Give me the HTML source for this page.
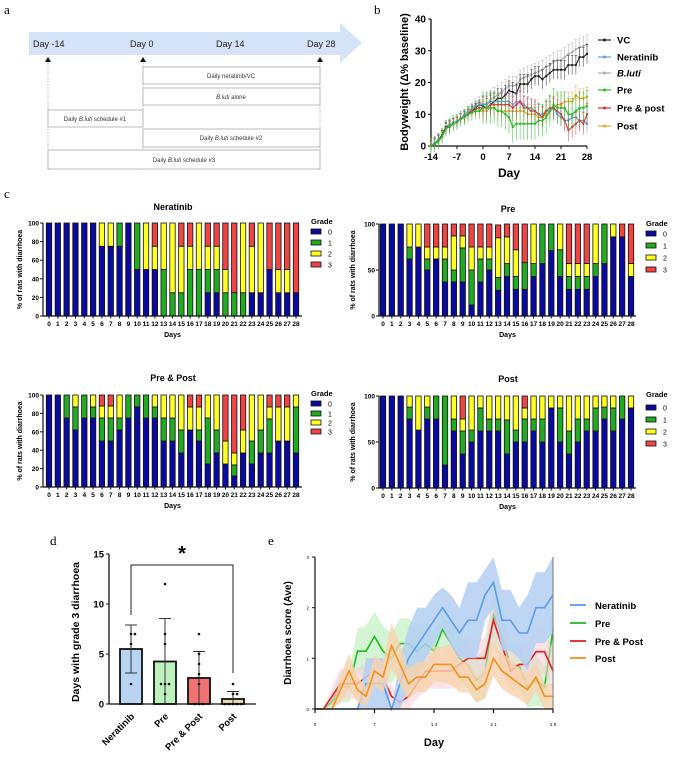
<!DOCTYPE html>
<html><head><meta charset="utf-8"><style>
html,body{margin:0;padding:0;background:#fff;}
svg{display:block;font-family:"Liberation Sans",Arial,sans-serif;}
.t{font-weight:bold;}
.serif{font-family:"Liberation Serif",serif;}
</style></head><body>
<svg id="fig" width="677" height="775" viewBox="0 0 677 775" xmlns="http://www.w3.org/2000/svg">
<g>
<text class="serif" x="4" y="14" font-size="13">a</text>
<polygon points="29,32 340,32 340,23 362,43 340,63 340,55 29,55" fill="#d4e3f7"/>
<g font-size="9" fill="#222">
<text x="33" y="47">Day -14</text>
<text x="130" y="47">Day 0</text>
<text x="216" y="47">Day 14</text>
<text x="307" y="47">Day 28</text>
</g>
<g fill="#111">
<polygon points="45,62 48,57 51,62"/>
<polygon points="140,62 143,57 146,62"/>
<polygon points="317,62 320,57 323,62"/>
</g>
<g stroke="#aaa" stroke-dasharray="1.5,1.5" stroke-width="0.8">
<line x1="48" y1="63" x2="48" y2="170"/><line x1="143" y1="63" x2="143" y2="170"/><line x1="320" y1="63" x2="320" y2="170"/>
</g>
<g fill="#fff" stroke="#aaa" stroke-width="0.8">
<rect x="143" y="67" width="177" height="17"/>
<rect x="143" y="88" width="177" height="17"/>
<rect x="48" y="110" width="95" height="17"/>
<rect x="143" y="129" width="177" height="18"/>
<rect x="48" y="150" width="272" height="19"/>
</g>
<g font-size="6" fill="#333" text-anchor="middle">
<text x="231" y="78">Daily neratinib/VC</text>
<text x="231" y="99"><tspan font-style="italic">B.luti</tspan> alone</text>
<text x="95" y="121">Daily <tspan font-style="italic">B.luti</tspan> schedule #1</text>
<text x="231" y="140">Daily <tspan font-style="italic">B.luti</tspan> schedule #2</text>
<text x="184" y="162">Daily <tspan font-style="italic">B.luti</tspan> schedule #3</text>
</g>
</g>
<text class="serif" x="374" y="14" font-size="13">b</text>
<text class="serif" x="4" y="198" font-size="13">c</text>
<text class="serif" x="50" y="545" font-size="13">d</text>
<text class="serif" x="268" y="545" font-size="13">e</text>
</svg>
<script>
// ---------- Panel b data ----------
const bDays = [];
for (let d = -14; d <= 28; d++) bDays.push(d);
const bTicksX = [-14, -7, 0, 7, 14, 21, 28];
const bTicksY = [0, 10, 20, 30, 40];
const bNames = ["VC", "Neratinib", "B.luti", "Pre", "Pre & post", "Post"];
const bVC = [0,1,2,3.5,6,6.5,7,7.5,8.5,9.5,10,11,12,13,12.5,12,13,14,15,15,16,17.5,17,16.5,19.5,19.5,19.5,21,22,22,21,22,23,24,24,24,24,25.5,25.5,25.5,28,28,29];
const bNer = [0,1,2,3,5.5,6.5,7,7.5,8.5,9.5,10.5,11.5,12.5,13,13,13,14,14,14,14,14,14,13,14,14,13,12,12,11,10,10,11,11,12,10,9,8,8,9,9,8,8,7];
const bBluti = [0,1,2,3.5,6,7,7.5,8,9,10,11,12,13,14,13,13.5,14.5,15.5,16,17,18,19,19,19,21,21.5,22,22.5,23,23.5,24,25,25.5,26.5,27,27,28,29,29.5,30.5,31,31.5,32];
const bPre = [0,0.5,1.5,3,5.5,6,7,7.5,8.5,9,10,10.5,11,11,12,12,12,12,11,11,10,9,6,7,7,7,7,7,7,8,8,9,11,13,12,12,12,10,10,11,12,12,12.5];
const bPP = [0,0.5,1.5,3,5.5,6,7,7.5,8.5,9,10,11,11.5,12,12,12,13,13,13,13,13,13,12,13,14,12,12,11,11,10,9,11,12,12,11,10,8,5,6,7,8,7,10];
const bPost = [0,0.5,1.5,3,5.5,6,7,7.5,8.5,9,10,10.5,11,11,11,11,12,12,11,11,11,11,11,11,11,11,10,10,10,9,9,10,11,12,13,13,14,14,14,16,15,15,15.5];
const bErr = [3, 3, 3, 5, 3.5, 3];

// ---------- Panel c data (percent per grade, days 0..28) ----------
const cDays = [];
for (let d = 0; d <= 28; d++) cDays.push(d);
const nerG0 = [100,100,100,100,100,100,75,75,75,100,50,50,50,0,0,0,0,0,25,25,0,0,0,25,25,50,25,25,25];
const nerG1 = [0,0,0,0,0,0,0,0,25,0,50,0,0,50,25,25,50,50,25,25,25,25,25,0,0,0,0,0,0];
const nerG2 = [0,0,0,0,0,0,25,25,0,0,0,50,25,50,75,50,25,50,25,25,25,0,75,50,75,0,25,25,0];
const nerG3 = [0,0,0,0,0,0,0,0,0,0,0,0,25,0,0,25,25,0,25,25,50,75,0,25,0,50,50,50,75];
const preG0 = [100,100,100,62,75,50,62,37,37,37,12,37,50,28,43,29,29,43,57,71,43,29,29,29,43,57,86,86,43];
const preG1 = [0,0,0,13,0,12,0,25,13,37,38,25,12,14,14,14,29,14,43,29,29,14,14,14,14,43,0,0,0];
const preG2 = [0,0,0,25,25,13,13,13,37,13,25,13,13,43,29,29,0,43,0,0,28,14,14,14,43,0,14,0,14];
const preG3 = [0,0,0,0,0,25,25,25,13,13,25,25,25,14,14,28,42,0,0,0,0,43,43,43,0,0,0,14,43];
const ppG0 = [100,100,75,62,75,75,50,50,62,75,87,75,75,50,50,37,62,50,25,37,25,12,37,25,37,37,50,50,37];
const ppG1 = [0,0,25,25,25,12,25,25,13,25,13,25,12,25,25,25,0,12,50,25,0,12,0,25,25,37,0,0,50];
const ppG2 = [0,0,0,13,0,13,13,13,25,0,0,0,13,25,25,38,25,25,25,38,25,13,25,50,38,13,37,37,13];
const ppG3 = [0,0,0,0,0,0,12,12,0,0,0,0,0,0,0,0,13,13,0,0,50,63,38,0,0,13,13,13,0];
const poG0 = [100,100,100,75,63,75,75,25,62,37,50,62,62,62,37,50,50,62,50,87,50,37,50,62,62,75,62,75,87];
const poG1 = [0,0,0,13,0,13,25,75,13,25,13,25,13,13,37,13,25,13,25,0,37,25,25,13,25,13,25,25,0];
const poG2 = [0,0,0,12,37,12,0,0,25,13,37,13,25,25,26,37,12,25,25,13,13,38,25,25,13,12,13,0,13];
const poG3 = [0,0,0,0,0,0,0,0,0,25,0,0,0,0,0,0,13,0,0,0,0,0,0,0,0,0,0,0,0];

// ---------- Panel d data ----------
const dGroups = ["Neratinib", "Pre", "Pre & Post", "Post"];
const dMeans = [5.5, 4.25, 2.6, 0.5];
const dSD = [2.4, 4.3, 2.65, 0.75];
const dPoints = [[7,7,6,2],[12,7,6,2,2,2,1],[7,5,4,3,2,0,0,0],[2,1,1,0,0,0,0,0]];
const dTicks = [0, 5, 10, 15];

// ---------- Panel e data ----------
const eNames = ["Neratinib", "Pre", "Pre & Post", "Post"];
const eNer = [0,0,0,0,0,0,0.5,0.5,0.5,0,0.5,1,1.25,1.5,1.75,2,1.75,1.5,1.75,1.75,2.25,2.5,1.75,1.75,1.5,1.5,2,2,2.25];
const eNerErr = [0,0,0,0,0,0,0.5,0.5,0.5,0,0.5,0.6,0.75,0.5,0.5,0.4,0.5,0.5,0.75,0.75,0.5,0.5,0.6,0.6,0.5,0.75,0.7,0.7,0.75];
const ePre = [0,0,0.14,0.43,0.43,1.14,1.14,1.43,1.14,1,1.29,1.29,1.14,1.29,1.14,1.57,1.29,1,0.86,0.57,0.71,1.86,1.43,0.86,0.86,0.43,0.57,0.43,1.57];
const ePreErr = [0,0,0.14,0.3,0.3,0.45,0.5,0.5,0.5,0.5,0.5,0.5,0.5,0.45,0.4,0.35,0.45,0.45,0.45,0.45,0.5,0.5,0.6,0.5,0.45,0.4,0.5,0.4,0.6];
const ePP = [0,0,0.25,0.5,0.5,0.5,0.63,0.75,0.63,0.25,0.13,0.25,0.5,0.75,0.75,0.75,0.75,0.88,1,1,1,1.75,1.25,0.75,0.88,0.88,1.13,1.13,0.75];
const ePPErr = [0,0,0.2,0.3,0.3,0.3,0.3,0.3,0.3,0.2,0.13,0.25,0.3,0.35,0.35,0.35,0.35,0.4,0.4,0.4,0.4,0.5,0.45,0.4,0.4,0.4,0.45,0.45,0.4];
const ePost = [0,0,0,0.38,0.75,0.38,0.25,0.75,0.63,1.25,0.88,0.5,0.63,0.63,0.88,0.88,0.88,0.63,0.63,0.38,0.5,1,0.75,0.63,0.5,0.38,0.63,0.25,0.25];
const ePostErr = [0,0,0,0.25,0.35,0.25,0.2,0.3,0.3,0.45,0.4,0.3,0.3,0.3,0.35,0.35,0.4,0.3,0.3,0.25,0.3,0.35,0.35,0.35,0.3,0.3,0.3,0.25,0.25];
const eTicksX = [0, 7, 14, 21, 28];
const eTickLabels = ["0", "7", "1 4", "2 1", "2 8"];
const eTicksY = [0, 1, 2, 3];

const NS = "http://www.w3.org/2000/svg";
const svg = document.getElementById("fig");
function mk(parent, tag, attrs, name, inter) {
  const e = document.createElementNS(NS, tag);
  for (const k in attrs) e.setAttribute(k, attrs[k]);
  
  
  parent.appendChild(e);
  return e;
}
function txt(parent, x, y, s, size, name, extra) {
  const a = Object.assign({x: x, y: y, "font-size": size}, extra || {});
  const t = mk(parent, "text", a, name, false);
  t.textContent = s;
  return t;
}

// ---------- Panel b ----------
(function () {
  const g = mk(svg, "g", {}, "panel-b-bodyweight-chart", false);
  const X0 = 431, X1 = 587, Y0 = 146, Y1 = 19;
  const sx = d => X0 + (d + 14) / 42 * (X1 - X0);
  const sy = v => Y0 - v / 40 * (Y0 - Y1);
  mk(g, "line", {x1: X0, y1: Y1, x2: X0, y2: Y0, stroke: "#111", "stroke-width": 1.3}, "y-axis", false);
  mk(g, "line", {x1: X0, y1: Y0, x2: X1, y2: Y0, stroke: "#111", "stroke-width": 1.3}, "x-axis", false);
  bTicksY.forEach(v => {
    mk(g, "line", {x1: X0 - 3, y1: sy(v), x2: X0, y2: sy(v), stroke: "#111"}, "y-tick", false);
    txt(g, X0 - 5, sy(v) + 3.5, String(v), 10, "y-tick-label", {"text-anchor": "end", class: "t"});
  });
  bTicksX.forEach(v => {
    mk(g, "line", {x1: sx(v), y1: Y0, x2: sx(v), y2: Y0 + 3, stroke: "#111"}, "x-tick", false);
    txt(g, sx(v), Y0 + 14, String(v), 9.5, "x-tick-label", {"text-anchor": "middle", class: "t"});
  });
  txt(g, 509, 177, "Day", 12, "x-axis-title", {"text-anchor": "middle", class: "t"});
  txt(g, 0, 0, "Bodyweight (Δ% baseline)", 11, "y-axis-title", {"text-anchor": "middle", class: "t", transform: "translate(408,82) rotate(-90)"});
  const series = [bVC, bNer, bBluti, bPre, bPP, bPost];
  const cols = ["#222", "#5aa0e6", "#aaaaaa", "#22bb22", "#e03030", "#f0a030"];
  const order = [2, 0, 5, 1, 4, 3];
  order.forEach(si => {
    const vals = series[si];
    const sg = mk(g, "g", {}, "series-" + bNames[si].toLowerCase().replace(/[^a-z]+/g, "-"), false);
    vals.forEach((v, i) => {
      const e = bDays[i] < 0 ? bErr[si] * 0.5 : bErr[si];
      mk(sg, "line", {x1: sx(bDays[i]), x2: sx(bDays[i]), y1: sy(v - e), y2: sy(v + e), stroke: cols[si], "stroke-width": 0.6, opacity: 0.8}, "error-bar", false);
      mk(sg, "line", {x1: sx(bDays[i]) - 1.3, x2: sx(bDays[i]) + 1.3, y1: sy(v + e), y2: sy(v + e), stroke: cols[si], "stroke-width": 0.6, opacity: 0.8}, "error-cap", false);
    });
    const pts = vals.map((v, i) => sx(bDays[i]).toFixed(1) + "," + sy(v).toFixed(1)).join(" ");
    mk(sg, "polyline", {points: pts, fill: "none", stroke: cols[si], "stroke-width": 1.1}, "series-line", false);
    vals.forEach((v, i) => mk(sg, "circle", {cx: sx(bDays[i]), cy: sy(v), r: 1.2, fill: cols[si]}, "point", false));
  });
  const ly = [40, 57, 73, 90, 108, 126];
  bNames.forEach((n, i) => {
    const lg = mk(g, "g", {}, "legend-entry", false);
    mk(lg, "line", {x1: 598, x2: 611, y1: ly[i], y2: ly[i], stroke: cols[i], "stroke-width": 1.2}, "legend-line", false);
    mk(lg, "circle", {cx: 604.5, cy: ly[i], r: 1.5, fill: cols[i]}, "legend-marker", false);
    txt(lg, 617, ly[i] + 3.5, n, 9.5, "legend-label", {class: "t", "font-style": n === "B.luti" ? "italic" : "normal"});
  });
})();

// ---------- Panel c ----------
const gradeCols = ["#0a0aa0", "#22aa22", "#ffff22", "#ee4444"];
function stacked(cfg, data) {
  const g = mk(svg, "g", {}, cfg.name, false);
  const sy = v => cfg.yb - v / 100 * (cfg.yb - cfg.yt);
  const sx = d => cfg.b0 + d / 28 * (cfg.b28 - cfg.b0);
  txt(g, cfg.tx, cfg.ty, cfg.title, 9, "chart-title", {"text-anchor": "middle", class: "t"});
  cDays.forEach((d, i) => {
    let acc = 0;
    for (let k = 0; k < 4; k++) {
      const v = data[k][i];
      if (v > 0) {
        mk(g, "rect", {x: sx(d) - 2.7, y: sy(acc + v), width: 5.4, height: sy(acc) - sy(acc + v), fill: gradeCols[k], stroke: "#111", "stroke-width": 0.8}, "bar-day" + d + "-grade" + k, false);
      }
      acc += v;
    }
  });
  mk(g, "line", {x1: cfg.x0, y1: cfg.yt, x2: cfg.x0, y2: cfg.yb, stroke: "#111", "stroke-width": 1.2}, "y-axis", false);
  mk(g, "line", {x1: cfg.x0, y1: cfg.yb, x2: cfg.x1, y2: cfg.yb, stroke: "#111", "stroke-width": 1.2}, "x-axis", false);
  cfg.ticks.forEach(v => {
    mk(g, "line", {x1: cfg.x0 - 3, x2: cfg.x0, y1: sy(v), y2: sy(v), stroke: "#111"}, "y-tick", false);
    txt(g, cfg.x0 - 4, sy(v) + 2.5, String(v), 6.5, "y-tick-label", {"text-anchor": "end", class: "t"});
  });
  cDays.forEach(d => {
    mk(g, "line", {x1: sx(d), x2: sx(d), y1: cfg.yb, y2: cfg.yb + 2.5, stroke: "#111"}, "x-tick", false);
    txt(g, sx(d), cfg.yb + 10, String(d), 6.5, "x-tick-label", {"text-anchor": "middle", class: "t"});
  });
  txt(g, (cfg.x0 + cfg.x1) / 2, cfg.yb + 21, "Days", 7, "x-axis-title", {"text-anchor": "middle", class: "t"});
  txt(g, 0, 0, "% of rats with diarrhoea", 7, "y-axis-title", {"text-anchor": "middle", class: "t", transform: "translate(" + cfg.ylx + "," + (cfg.yt + cfg.yb) / 2 + ") rotate(-90)"});
  txt(g, cfg.lx, cfg.gy, "Grade", 7.5, "legend-title", {class: "t"});
  cfg.ly.forEach((y, k) => {
    mk(g, "rect", {x: cfg.lx, y: y - 3, width: 10, height: 5, fill: gradeCols[k], stroke: "#111", "stroke-width": 0.8}, "legend-swatch-grade" + k, false);
    txt(g, cfg.lx + 17, y + 2.5, String(k), 7, "legend-label", {});
  });
}
stacked({name: "panel-c-neratinib-chart", title: "Neratinib", tx: 173, ty: 210, x0: 43, x1: 302, b0: 49, b28: 296, yt: 223, yb: 316, ticks: [0,20,40,60,80,100], ylx: 22, lx: 311, gy: 224, ly: [232,243,254,265]}, [nerG0, nerG1, nerG2, nerG3]);
stacked({name: "panel-c-pre-chart", title: "Pre", tx: 508, ty: 212, x0: 379, x1: 636, b0: 383, b28: 631, yt: 224, yb: 316, ticks: [0,50,100], ylx: 355, lx: 646, gy: 226, ly: [234,246,258,270]}, [preG0, preG1, preG2, preG3]);
stacked({name: "panel-c-pre-post-chart", title: "Pre & Post", tx: 173, ty: 381, x0: 43, x1: 302, b0: 49, b28: 296, yt: 395, yb: 487, ticks: [0,20,40,60,80,100], ylx: 22, lx: 311, gy: 396, ly: [404,414,423,432]}, [ppG0, ppG1, ppG2, ppG3]);
stacked({name: "panel-c-post-chart", title: "Post", tx: 508, ty: 382, x0: 379, x1: 636, b0: 383, b28: 631, yt: 396, yb: 488, ticks: [0,50,100], ylx: 355, lx: 646, gy: 397, ly: [408,420,432,444]}, [poG0, poG1, poG2, poG3]);

// ---------- Panel d ----------
(function () {
  const g = mk(svg, "g", {}, "panel-d-grade3-days-chart", false);
  const X0 = 109, X1 = 256, Y0 = 704;
  const sy = v => Y0 - v * 10;
  const cx = [131, 165, 199, 233];
  const fills = ["#b9d3f3", "#bdf2bd", "#f07272", "#f1d9b1"];
  dMeans.forEach((m, i) => {
    mk(g, "rect", {x: cx[i] - 11, y: sy(m), width: 22, height: Y0 - sy(m), fill: fills[i], stroke: "#111", "stroke-width": 1.8}, "bar-" + dGroups[i].toLowerCase().replace(/[^a-z]+/g, "-"), false);
    const lo = Math.max(0, m - dSD[i]), hi = m + dSD[i];
    mk(g, "line", {x1: cx[i], x2: cx[i], y1: sy(lo), y2: sy(hi), stroke: "#333", "stroke-width": 1}, "error-bar", false);
    mk(g, "line", {x1: cx[i] - 6, x2: cx[i] + 6, y1: sy(hi), y2: sy(hi), stroke: "#333", "stroke-width": 1}, "error-cap", false);
    mk(g, "line", {x1: cx[i] - 6, x2: cx[i] + 6, y1: sy(lo), y2: sy(lo), stroke: "#333", "stroke-width": 1}, "error-cap", false);
    const seen = {};
    dPoints[i].forEach(p => {
      const n = seen[p] = (seen[p] || 0) + 1;
      const off = (n - 1) % 2 === 0 ? -Math.floor((n - 1) / 2) * 4 : Math.ceil((n - 1) / 2) * 4;
      mk(g, "circle", {cx: cx[i] + off, cy: sy(p), r: 1.3, fill: "#111"}, "data-point", false);
    });
  });
  mk(g, "line", {x1: X0, y1: 554, x2: X0, y2: Y0, stroke: "#111", "stroke-width": 1.3}, "y-axis", false);
  mk(g, "line", {x1: X0, y1: Y0, x2: X1, y2: Y0, stroke: "#111", "stroke-width": 1.3}, "x-axis", false);
  dTicks.forEach(v => {
    mk(g, "line", {x1: X0 - 3, x2: X0, y1: sy(v), y2: sy(v), stroke: "#111"}, "y-tick", false);
    txt(g, X0 - 5, sy(v) + 3.5, String(v), 9.5, "y-tick-label", {"text-anchor": "end", class: "t"});
  });
  dGroups.forEach((n, i) => {
    txt(g, 0, 0, n, 9.5, "x-tick-label", {"text-anchor": "end", class: "t", transform: "translate(" + (cx[i] + 4) + "," + (Y0 + 13) + ") rotate(-45)"});
  });
  txt(g, 0, 0, "Days with grade 3 diarrhoea", 10.5, "y-axis-title", {"text-anchor": "middle", class: "t", transform: "translate(79,632) rotate(-90)"});
  mk(g, "polyline", {points: "131,615 131,565 233,565 233,673", fill: "none", stroke: "#222", "stroke-width": 1}, "significance-bracket", false);
  txt(g, 182, 560, "*", 20, "significance-star", {"text-anchor": "middle", class: "t"});
})();

// ---------- Panel e ----------
(function () {
  const g = mk(svg, "g", {}, "panel-e-diarrhoea-score-chart", false);
  const X0 = 315, X1 = 553, Y0 = 709, Y3 = 557;
  const sx = d => X0 + d / 28 * (X1 - X0);
  const sy = v => Y0 - Math.min(v, 3) / 3 * (Y0 - Y3);
  const vals = [eNer, ePre, ePP, ePost], errs = [eNerErr, ePreErr, ePPErr, ePostErr];
  const cols = ["#5b9de8", "#22bb22", "#e02020", "#f39020"];
  const bands = ["#b3cff2", "#b8eeb8", "#f8ccd4", "#f8d2ad"];
  const ops = [0.85, 0.6, 0.55, 0.8];
  const drawOrder = [1, 2, 0, 3];
  drawOrder.forEach(i => {
    const v = vals[i];
    const up = v.map((y, d) => sx(d).toFixed(1) + "," + sy(y + errs[i][d]).toFixed(1));
    const dn = v.map((y, d) => sx(d).toFixed(1) + "," + sy(Math.max(0, y - errs[i][d])).toFixed(1)).reverse();
    mk(g, "polygon", {points: up.concat(dn).join(" "), fill: bands[i], opacity: ops[i]}, "band-" + eNames[i].toLowerCase().replace(/[^a-z]+/g, "-"), false);
    const pts = v.map((y, d) => sx(d).toFixed(1) + "," + sy(y).toFixed(1)).join(" ");
    mk(g, "polyline", {points: pts, fill: "none", stroke: cols[i], "stroke-width": 1.6}, "line-" + eNames[i].toLowerCase().replace(/[^a-z]+/g, "-"), false);
  });
  mk(g, "line", {x1: X1, y1: Y3, x2: X1, y2: Y0, stroke: "#777", "stroke-width": 1}, "right-border", false);
  mk(g, "line", {x1: X0, y1: Y3, x2: X0, y2: Y0, stroke: "#111", "stroke-width": 1.2}, "y-axis", false);
  mk(g, "line", {x1: X0, y1: Y0, x2: X1, y2: Y0, stroke: "#111", "stroke-width": 1.2}, "x-axis", false);
  eTicksY.forEach(v => {
    mk(g, "line", {x1: X0 - 3, x2: X0, y1: sy(v), y2: sy(v), stroke: "#111"}, "y-tick", false);
    txt(g, X0 - 6, sy(v) + 2, String(v), 4.5, "y-tick-label", {"text-anchor": "end"});
  });
  eTicksX.forEach((v, i) => {
    mk(g, "line", {x1: sx(v), x2: sx(v), y1: Y0, y2: Y0 + 4, stroke: "#111", "stroke-width": 1.2}, "x-tick", false);
    txt(g, sx(v), Y0 + 17, eTickLabels[i], 4.5, "x-tick-label", {"text-anchor": "middle"});
  });
  txt(g, 434, 746, "Day", 11, "x-axis-title", {"text-anchor": "middle", class: "t"});
  txt(g, 0, 0, "Diarrhoea score (Ave)", 10, "y-axis-title", {"text-anchor": "middle", class: "t", transform: "translate(291,633) rotate(-90)"});
  const ly = [605, 623, 641, 658];
  eNames.forEach((n, i) => {
    const lg = mk(g, "g", {}, "legend-entry", false);
    mk(lg, "line", {x1: 570, x2: 586, y1: ly[i], y2: ly[i], stroke: cols[i], "stroke-width": 1.8}, "legend-line", false);
    txt(lg, 595, ly[i] + 4, n, 9.5, "legend-label", {class: "t"});
  });
})();
</script>
</body></html>
